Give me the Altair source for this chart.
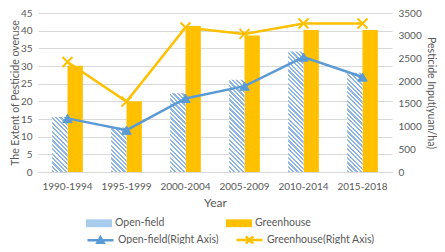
import altair as alt
import pandas as pd

# ---------------- data ----------------
categories = ["1990-1994", "1995-1999", "2000-2004", "2005-2009", "2010-2014", "2015-2018"]
open_field_overuse = [15.6, 12.6, 22.3, 26.1, 34.1, 28.1]
greenhouse_overuse = [30.1, 20.0, 41.3, 38.6, 40.2, 40.2]
open_field_input = [1180, 920, 1620, 1890, 2530, 2090]
greenhouse_input = [2420, 1550, 3180, 3040, 3270, 3270]

bar_series = ["Open-field", "Greenhouse"]
line_series = ["Open-field(Right Axis)", "Greenhouse(Right Axis)"]

bars = pd.DataFrame({
    "year": categories * 2,
    "series": [bar_series[0]] * len(categories) + [bar_series[1]] * len(categories),
    "value": open_field_overuse + greenhouse_overuse,
})
lines = pd.DataFrame({
    "year": categories * 2,
    "series": [line_series[0]] * len(categories) + [line_series[1]] * len(categories),
    "value": open_field_input + greenhouse_input,
})

# ---------------- style / layout ----------------
BLUE = "#5B9BD5"
GOLD = "#FFC000"
STRIPE = "#8DB6E2"
GRID = "#D9D9D9"
TXT = "#595959"
FONT = "Lato"

W, H = 354, 159
Y_MAX = 45
PAD_INNER = 0.48
BAR_W = W / len(categories) * (1 - PAD_INNER) / 2
PITCH = 4.4  # vertical pitch of the hatch, px


def hatch_for(value):
    h = max(value / Y_MAX * H, 1)
    dx = BAR_W / h
    k = (dx + 1) / (dx * dx + 1)
    n = max(int(round(h * (dx + 1) / PITCH)), 2)
    stops = []
    for i in range(n):
        a, b, c = i / n, (i + 0.5) / n, (i + 1) / n
        stops += [alt.GradientStop(color=STRIPE, offset=a), alt.GradientStop(color=STRIPE, offset=b),
                  alt.GradientStop(color="#FFFFFF", offset=b), alt.GradientStop(color="#FFFFFF", offset=c)]
    return alt.LinearGradient(gradient="linear", stops=stops,
                              x1=0, y1=1, x2=dx * k, y2=1 - k)


X_PATH = "M-1,-1L1,1M-1,1L1,-1"
OF_LINE_SYM = "M-1,0H1M-0.26,0.22L0,-0.24L0.26,0.22Z"
GH_LINE_SYM = "M-1,0H1M-0.28,-0.28L0.28,0.28M-0.28,0.28L0.28,-0.28"

x_enc = alt.X(
    "year:N", sort=categories, title="Year",
    scale=alt.Scale(paddingInner=PAD_INNER, paddingOuter=PAD_INNER / 2),
    axis=alt.Axis(labelAngle=0, ticks=False, domainColor=GRID, labelPadding=9,
                  titlePadding=6, titleFontSize=12, titleFontWeight="normal"),
)
xoff_enc = alt.XOffset("series:N", sort=bar_series,
                       scale=alt.Scale(domain=bar_series, paddingInner=0, paddingOuter=0))
y_left = alt.Y("value:Q", title="The Extent of Pesticide overuse",
               scale=alt.Scale(domain=[0, Y_MAX], nice=False),
               axis=alt.Axis(values=list(range(0, 50, 5)), grid=True, gridColor=GRID,
                             domain=False, ticks=False, labelPadding=6,
                             titleX=-22.5, titleBaseline="middle",
                             titleFontSize=10.5, titleFontWeight="normal"))

bar_layer = alt.Chart(bars).mark_bar().encode(
    x=x_enc,
    xOffset=xoff_enc,
    y=y_left,
    fill=alt.condition(
        alt.datum.series == bar_series[0],
        alt.value("#FFFFFF"),
        alt.Fill("series:N", sort=bar_series,
                 scale=alt.Scale(domain=bar_series, range=["#A9CBEC", GOLD]),
                 legend=alt.Legend(
                     title=None, orient="none", legendX=48, legendY=197,
                     direction="horizontal", padding=0,
                     symbolType="M-1,-0.3H1V0.3H-1Z", symbolSize=676,
                     symbolStrokeWidth=0, labelOffset=3, columnPadding=61,
                     labelFont=FONT, labelFontSize=10.5, labelColor=TXT,
                 )),
    ),
)

hatch_layers = [
    alt.Chart(bars).transform_filter(
        (alt.datum.series == bar_series[0]) & (alt.datum.year == cat)
    ).mark_bar(fill=hatch_for(val)).encode(x=x_enc, xOffset=xoff_enc, y=y_left)
    for cat, val in zip(categories, open_field_overuse)
]

line_base = alt.Chart(lines).encode(
    x=x_enc,
    y=alt.Y("value:Q", title="Pesticide Input(yuan/ha)",
            scale=alt.Scale(domain=[0, 3500], nice=False),
            axis=alt.Axis(orient="right", values=list(range(0, 4000, 500)), format="d",
                          grid=False, domain=False, ticks=False, labelPadding=6,
                          titlePadding=4, titleFontSize=10.5, titleFontWeight="normal")),
    stroke=alt.Stroke("series:N", sort=line_series,
                      scale=alt.Scale(domain=line_series, range=[BLUE, GOLD]),
                      legend=alt.Legend(
                          title=None, orient="none", legendX=48, legendY=212,
                          direction="horizontal", padding=0,
                          symbolType={"expr": "datum.value === '" + line_series[0] + "' ? '" + OF_LINE_SYM + "' : '" + GH_LINE_SYM + "'"},
                          symbolFillColor={"expr": "datum.value === '" + line_series[0] + "' ? '" + BLUE + "' : 'transparent'"},
                          symbolSize=676, symbolStrokeWidth=2.5, labelOffset=3,
                          columnPadding=12,
                          labelFont=FONT, labelFontSize=10.5, labelColor=TXT,
                      )),
)

line_layer = line_base.mark_line(strokeWidth=2.5)
tri_layer = line_base.transform_filter(
    alt.datum.series == line_series[0]
).mark_point(shape="triangle-up", size=90, filled=True, fill=BLUE, strokeWidth=1, opacity=1)
x_layer = line_base.transform_filter(
    alt.datum.series == line_series[1]
).mark_point(shape=X_PATH, size=100, strokeWidth=2, opacity=1)

chart = alt.layer(
    alt.layer(bar_layer, *hatch_layers),
    alt.layer(line_layer, tri_layer, x_layer),
).resolve_scale(
    y="independent", x="shared"
).properties(
    width=W, height=H,
    autosize=alt.AutoSizeParams(type="none"),
    padding={"left": 30, "top": 5, "right": 45, "bottom": 72},
).configure_view(
    stroke=None
).configure_axis(
    labelFont=FONT, labelFontSize=10, labelColor=TXT,
    titleFont=FONT, titleColor=TXT,
)

chart.save("out.html", embed_options={"renderer": "svg", "actions": False})
